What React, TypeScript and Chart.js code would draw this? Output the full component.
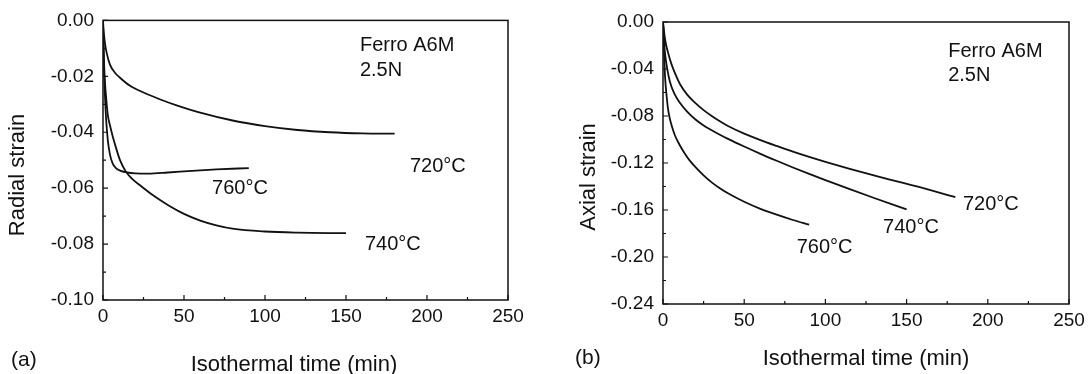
import React, { useEffect, useRef } from "react";
import { Chart, registerables } from "chart.js";

Chart.register(...registerables);

const FONT = "'Liberation Sans', Arial, Helvetica, sans-serif";
const INK = "#111";

// ---- Panel (a): radial strain against isothermal time ----
const radialTime720 = [0, 0.3, 0.7, 1.2, 2.3, 4.3, 7.4, 10.5, 16.7, 25, 35, 45, 60, 80, 100, 120, 140, 160, 180];
const radialStrain720 = [0, -0.003, -0.0055, -0.0081, -0.0117, -0.0158, -0.0187, -0.0205, -0.0234, -0.0258, -0.0282, -0.0303, -0.033, -0.0358, -0.0378, -0.0392, -0.04, -0.0404, -0.0405];

const radialTime740 = [0, 0.3, 0.7, 1.2, 2, 3, 4.3, 6, 8, 10.5, 14, 18, 24, 30, 40, 50, 60, 70, 80, 100, 120, 150];
const radialStrain740 = [0, -0.008, -0.016, -0.022, -0.028, -0.034, -0.0375, -0.0415, -0.0455, -0.05, -0.054, -0.0567, -0.0595, -0.0622, -0.066, -0.0692, -0.0716, -0.0733, -0.0745, -0.0755, -0.0759, -0.0761];

const radialTime760 = [0, 0.3, 0.7, 1.2, 2, 3, 4.3, 6, 8, 11, 15, 20, 28, 40, 55, 70, 90];
const radialStrain760 = [0, -0.01, -0.019, -0.027, -0.036, -0.043, -0.048, -0.0512, -0.0528, -0.0538, -0.0544, -0.0547, -0.0548, -0.0544, -0.0538, -0.0533, -0.0528];

// ---- Panel (b): axial strain against isothermal time ----
const axialTime720 = [0, 1, 2, 3.3, 5, 7.5, 10.5, 15, 20, 25, 30, 35, 40, 50, 60, 70, 80, 90, 100, 115, 135, 155, 180];
const axialStrain720 = [0, -0.012, -0.02, -0.027, -0.035, -0.044, -0.053, -0.062, -0.069, -0.075, -0.08, -0.0845, -0.0885, -0.095, -0.1005, -0.1055, -0.1103, -0.1148, -0.119, -0.125, -0.1325, -0.1395, -0.149];

const axialTime740 = [0, 0.5, 1.2, 2.5, 4.3, 7, 10.5, 15, 20, 25, 30, 35, 40, 50, 60, 70, 80, 90, 100, 115, 130, 150];
const axialStrain740 = [0, -0.013, -0.026, -0.039, -0.051, -0.061, -0.069, -0.0765, -0.083, -0.088, -0.0922, -0.096, -0.0995, -0.106, -0.1122, -0.1181, -0.1238, -0.1293, -0.1346, -0.1423, -0.1498, -0.1595];

const axialTime760 = [0, 0.4, 0.8, 1.2, 1.7, 2.3, 3, 4, 5.5, 7.5, 10, 13, 16.5, 20, 25, 30, 35, 40, 50, 60, 70, 80, 90];
const axialStrain760 = [0, -0.016, -0.032, -0.045, -0.055, -0.064, -0.073, -0.081, -0.089, -0.097, -0.104, -0.111, -0.118, -0.1235, -0.1305, -0.1365, -0.1415, -0.1458, -0.153, -0.159, -0.164, -0.1685, -0.1725];

// Time axis shared by both panels
const timeMin = 0;
const timeMax = 250;
const timeStep = 50;

const radialMin = -0.1;
const radialMax = 0;
const radialStep = 0.02;

const axialMin = -0.24;
const axialMax = 0;
const axialStep = 0.04;

// Text notes placed in data coordinates (left edge, vertical middle)
const radialNotes = [
  { text: "Ferro A6M", x: 158.6, y: -0.009 },
  { text: "2.5N", x: 158.6, y: -0.0178 },
  { text: "720°C", x: 189.5, y: -0.0523 },
  { text: "760°C", x: 67.3, y: -0.06 },
  { text: "740°C", x: 161.7, y: -0.08 },
];

const axialNotes = [
  { text: "Ferro A6M", x: 175.6, y: -0.0253 },
  { text: "2.5N", x: 175.6, y: -0.0457 },
  { text: "720°C", x: 184.7, y: -0.1557 },
  { text: "740°C", x: 135.5, y: -0.1749 },
  { text: "760°C", x: 82.3, y: -0.1919 },
];

type Series = { t: number[]; v: number[] };
type Note = { text: string; x: number; y: number };

type PanelSpec = {
  offsetX: number;
  padTop: number;
  padRight: number;
  yWidth: number;
  xHeight: number;
  yMin: number;
  yMax: number;
  yStep: number;
  series: Series[];
  notes: Note[];
  yTitle: string;
  yTitleX: number;
  yTitleY: number;
  xTitle: string;
  xTitleX: number;
  xTitleY: number;
  tag: string;
  tagX: number;
  tagY: number;
};

const W = 546;
const H = 374;

const panels: PanelSpec[] = [
  {
    offsetX: 0,
    padTop: 17,
    padRight: W - 508,
    yWidth: 103,
    xHeight: H - 300,
    yMin: radialMin,
    yMax: radialMax,
    yStep: radialStep,
    series: [
      { t: radialTime720, v: radialStrain720 },
      { t: radialTime740, v: radialStrain740 },
      { t: radialTime760, v: radialStrain760 },
    ],
    notes: radialNotes,
    yTitle: "Radial strain",
    yTitleX: 24,
    yTitleY: 175,
    xTitle: "Isothermal time (min)",
    xTitleX: 294,
    xTitleY: 371,
    tag: "(a)",
    tagX: 11,
    tagY: 366,
  },
  {
    offsetX: 546,
    padTop: 22,
    padRight: W - (1069 - 546),
    yWidth: 663 - 546,
    xHeight: H - 304,
    yMin: axialMin,
    yMax: axialMax,
    yStep: axialStep,
    series: [
      { t: axialTime720, v: axialStrain720 },
      { t: axialTime740, v: axialStrain740 },
      { t: axialTime760, v: axialStrain760 },
    ],
    notes: axialNotes,
    yTitle: "Axial strain",
    yTitleX: 595 - 546,
    yTitleY: 177,
    xTitle: "Isothermal time (min)",
    xTitleX: 866 - 546,
    xTitleY: 365,
    tag: "(b)",
    tagX: 575 - 546,
    tagY: 364,
  },
];

function fmt2(v: number) {
  if (Math.abs(v) < 1e-9) return "0.00";
  return v.toFixed(2);
}

function makePlugin(spec: PanelSpec) {
  return {
    id: "frameAndText",
    afterDraw(chart: any) {
      const { ctx, chartArea: a, scales } = chart;
      const xs = scales.x;
      const ys = scales.y;
      ctx.save();
      ctx.strokeStyle = INK;
      ctx.lineWidth = 1.5;
      ctx.strokeRect(a.left, a.top, a.right - a.left, a.bottom - a.top);

      // inward tick marks, majors from the scales and minors halfway between
      ctx.lineWidth = 1.2;
      ctx.beginPath();
      const xt = xs.ticks.map((t: any) => t.value);
      xt.forEach((v: number, i: number) => {
        const px = xs.getPixelForValue(v);
        ctx.moveTo(px, a.bottom);
        ctx.lineTo(px, a.bottom - 5);
        if (i < xt.length - 1) {
          const mx = xs.getPixelForValue((v + xt[i + 1]) / 2);
          ctx.moveTo(mx, a.bottom);
          ctx.lineTo(mx, a.bottom - 3);
        }
      });
      const yt = ys.ticks.map((t: any) => t.value);
      yt.forEach((v: number, i: number) => {
        const py = ys.getPixelForValue(v);
        ctx.moveTo(a.left, py);
        ctx.lineTo(a.left + 5, py);
        if (i < yt.length - 1) {
          const my = ys.getPixelForValue((v + yt[i + 1]) / 2);
          ctx.moveTo(a.left, my);
          ctx.lineTo(a.left + 3, my);
        }
      });
      ctx.stroke();

      ctx.fillStyle = INK;
      ctx.font = `20px ${FONT}`;
      ctx.textAlign = "left";
      ctx.textBaseline = "middle";
      spec.notes.forEach((n) => {
        ctx.fillText(n.text, xs.getPixelForValue(n.x), ys.getPixelForValue(n.y));
      });

      ctx.font = `22px ${FONT}`;
      ctx.textBaseline = "alphabetic";
      ctx.textAlign = "center";
      ctx.fillText(spec.xTitle, spec.xTitleX, spec.xTitleY);

      ctx.save();
      ctx.translate(spec.yTitleX, spec.yTitleY);
      ctx.rotate(-Math.PI / 2);
      ctx.fillText(spec.yTitle, 0, 0);
      ctx.restore();

      ctx.font = `21px ${FONT}`;
      ctx.textAlign = "left";
      ctx.fillText(spec.tag, spec.tagX, spec.tagY);
      ctx.restore();
    },
  };
}

function Panel({ spec }: { spec: PanelSpec }) {
  const ref = useRef<HTMLCanvasElement | null>(null);

  useEffect(() => {
    const canvas = ref.current;
    if (!canvas) return;
    const chart = new Chart(canvas, {
      type: "scatter",
      data: {
        datasets: spec.series.map((s) => ({
          data: s.t.map((t, i) => ({ x: t, y: s.v[i] })),
          showLine: true,
          cubicInterpolationMode: "monotone",
          borderColor: INK,
          borderWidth: 1.8,
          pointRadius: 0,
          pointHoverRadius: 0,
          fill: false,
        })),
      },
      options: {
        responsive: false,
        animation: false,
        devicePixelRatio: 1,
        events: [],
        layout: { padding: { left: 0, top: spec.padTop, right: spec.padRight, bottom: 0 } },
        plugins: { legend: { display: false }, tooltip: { enabled: false } },
        scales: {
          x: {
            type: "linear",
            min: timeMin,
            max: timeMax,
            ticks: {
              stepSize: timeStep,
              color: INK,
              font: { family: FONT, size: 19 },
              padding: 5,
              maxRotation: 0,
              autoSkip: false,
            },
            grid: { display: false, drawTicks: false },
            border: { display: false },
            afterFit: (s: any) => {
              s.height = spec.xHeight;
            },
          },
          y: {
            type: "linear",
            min: spec.yMin,
            max: spec.yMax,
            ticks: {
              stepSize: spec.yStep,
              color: INK,
              font: { family: FONT, size: 19 },
              padding: 9,
              autoSkip: false,
              callback: (v: any) => fmt2(Number(v)),
            },
            grid: { display: false, drawTicks: false },
            border: { display: false },
            afterFit: (s: any) => {
              s.width = spec.yWidth;
            },
          },
        },
      } as any,
      plugins: [makePlugin(spec)],
    });
    return () => chart.destroy();
  }, [spec]);

  return (
    <canvas
      ref={ref}
      width={W}
      height={H}
      style={{ position: "absolute", left: spec.offsetX, top: 0, width: W, height: H, display: "block" }}
    />
  );
}

export default function App() {
  return (
    <div
      style={{
        position: "absolute",
        left: 0,
        top: 0,
        width: 1092,
        height: 374,
        background: "#fff",
        overflow: "hidden",
      }}
    >
      {panels.map((p, i) => (
        <Panel key={i} spec={p} />
      ))}
    </div>
  );
}
